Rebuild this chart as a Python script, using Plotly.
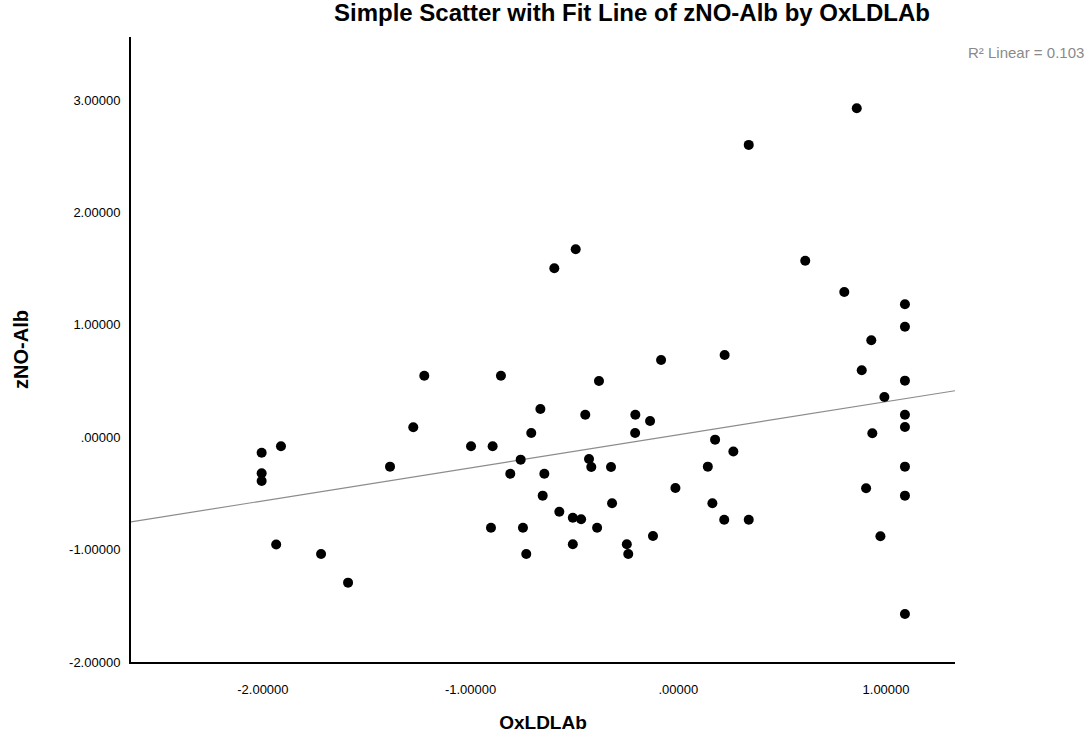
import numpy as np
import plotly.graph_objects as go

# OxLDLAb (x) and zNO-Alb (y)
oxldlab = [-2.006, -1.913, -2.006, -2.006, -1.388, -1.276, -1.936, -1.720, -1.590, -1.223,
           -0.494, -0.597, -0.854, -0.382, -0.083, -0.664, -0.448, -0.207, -0.136, -0.708,
           -0.208, -0.998, -0.894, -0.759, -0.430, -0.419, -0.324, -0.809, -0.645, -0.014,
           -0.653, -0.319, -0.573, -0.508, -0.468, -0.902, -0.748, -0.391, -0.122, -0.508,
           -0.248, -0.241, -0.732,
           0.859, 0.339, 0.611, 0.799, 1.091, 1.091, 0.929, 0.223, 0.883, 1.091,
           0.992, 1.091, 1.091, 0.934, 0.177, 0.265, 0.142, 1.091, 0.904, 1.091,
           0.164, 0.221, 0.339, 0.973, 1.091]
zno_alb = [-0.138, -0.081, -0.321, -0.390, -0.262, 0.088, -0.955, -1.039, -1.294, 0.547,
           1.672, 1.503, 0.547, 0.500, 0.687, 0.251, 0.200, 0.200, 0.144, 0.037,
           0.037, -0.081, -0.081, -0.200, -0.194, -0.265, -0.265, -0.325, -0.325, -0.452,
           -0.520, -0.588, -0.663, -0.716, -0.730, -0.805, -0.805, -0.805, -0.879, -0.953,
           -0.953, -1.039, -1.039,
           2.926, 2.600, 1.570, 1.292, 1.182, 0.983, 0.862, 0.731, 0.595, 0.503,
           0.358, 0.200, 0.091, 0.035, -0.022, -0.127, -0.262, -0.262, -0.455, -0.520,
           -0.588, -0.734, -0.734, -0.882, -1.573]

x_ticks = [-2, -1, 0, 1]
x_ticktext = ["-2.00000", "-1.00000", ".00000", "1.00000"]
y_ticks = [-2, -1, 0, 1, 2, 3]
y_ticktext = ["-2.00000", "-1.00000", ".00000", "1.00000", "2.00000", "3.00000"]
x_range = [-2.635, 1.332]
y_range = [-2.0, 3.56]
r2_label = "R² Linear = 0.103"

slope, intercept = np.polyfit(oxldlab, zno_alb, 1)
fit_x = np.array(x_range)
fit_y = intercept + slope * fit_x

font = "Liberation Sans, Arial, sans-serif"

fig = go.Figure()
fig.add_trace(go.Scatter(x=fit_x, y=fit_y, mode="lines",
                         line=dict(color="#8c8c8c", width=1.2), showlegend=False,
                         hoverinfo="skip"))
fig.add_trace(go.Scatter(x=oxldlab, y=zno_alb, mode="markers",
                         marker=dict(color="black", size=10), showlegend=False))

fig.update_layout(
    width=1089, height=736,
    margin=dict(l=131, r=134, t=37, b=74),
    plot_bgcolor="white", paper_bgcolor="white",
    font=dict(family=font, color="black"),
    title=dict(text="<b>Simple Scatter with Fit Line of zNO-Alb by OxLDLAb</b>",
               xref="paper", x=0.608, xanchor="center",
               yref="container", y=0.983, yanchor="middle",
               font=dict(size=24, family=font, color="black")),
)
fig.add_annotation(text=r2_label, xref="paper", yref="paper", x=1.159, y=0.976,
                   xanchor="right", yanchor="middle", showarrow=False,
                   font=dict(size=15, color="#8a8a8a", family=font))

fig.update_xaxes(range=x_range, tickvals=x_ticks, ticktext=x_ticktext,
                 showgrid=False, zeroline=False, showline=True, linecolor="black",
                 linewidth=2, ticks="", ticklabelstandoff=14, automargin=False,
                 tickfont=dict(size=13, family=font, color="black"),
                 title=dict(text="<b>OxLDLAb</b>", standoff=20,
                            font=dict(size=19, family=font, color="black")))
fig.update_yaxes(range=y_range, tickvals=y_ticks, ticktext=y_ticktext,
                 showgrid=False, zeroline=False, showline=True, linecolor="black",
                 linewidth=2, ticks="", ticklabelstandoff=6, automargin=False,
                 tickfont=dict(size=13, family=font, color="black"),
                 title=dict(text="<b>zNO-Alb</b>", standoff=35,
                            font=dict(size=20, family=font, color="black")))

# drop the browser's default 8px body margin so the figure sits at the page corner
fig.write_html("out.html", config={"displayModeBar": False},
               post_script="document.body.style.margin='0';")
